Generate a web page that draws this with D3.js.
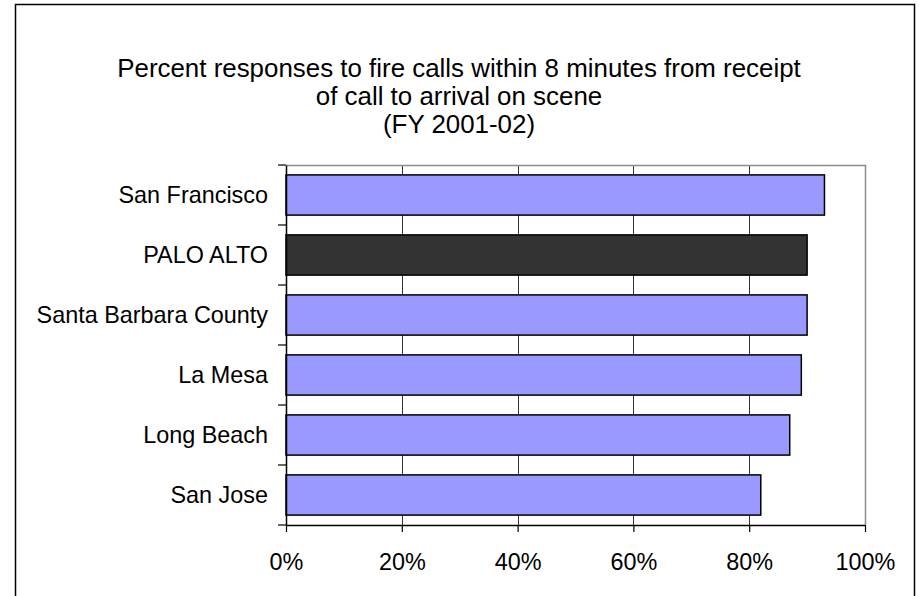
<!DOCTYPE html>
<html>
<head>
<meta charset="utf-8">
<script src="https://cdn.jsdelivr.net/npm/d3@7"></script>
<style>
  html, body { margin: 0; padding: 0; background: #fff; }
  svg { display: block; font-family: "Liberation Sans", Arial, sans-serif; }
</style>
</head>
<body>
<svg id="chart" width="919" height="596"></svg>
<script>
// Fire response performance, FY 2001-02
const titleLines = [
  "Percent responses to fire calls within 8 minutes from receipt",
  "of call to arrival on scene",
  "(FY 2001-02)"
];
const cities = ["San Francisco", "PALO ALTO", "Santa Barbara County", "La Mesa", "Long Beach", "San Jose"];
const percentWithin8 = [93, 90, 90, 89, 87, 82];
const highlightCity = "PALO ALTO";
const xTicks = [0, 20, 40, 60, 80, 100];

const svg = d3.select("#chart");

// outer frame
svg.append("rect")
  .attr("x", 15.5).attr("y", 4.5)
  .attr("width", 899).attr("height", 620)
  .attr("fill", "none").attr("stroke", "#000").attr("stroke-width", 1.5);

// title
svg.append("g").selectAll("text")
  .data(titleLines).join("text")
  .attr("x", 459).attr("y", (d, i) => 77 + i * 28)
  .attr("text-anchor", "middle")
  .attr("font-size", 25.9)
  .attr("fill", "#000")
  .text(d => d);

const plot = { left: 286, right: 865, top: 165, bottom: 525 };

const x = d3.scaleLinear().domain([0, 100]).range([plot.left, plot.right]);
const y = d3.scaleBand().domain(cities).range([plot.top, plot.bottom]).paddingInner(0.33).paddingOuter(0.165);
const band = d3.scaleBand().domain(cities).range([plot.top, plot.bottom]);

// vertical gridlines
svg.append("g").selectAll("line")
  .data(xTicks.filter(t => t > 0 && t < 100)).join("line")
  .attr("x1", d => Math.round(x(d)) + 0.5).attr("x2", d => Math.round(x(d)) + 0.5)
  .attr("y1", plot.top).attr("y2", plot.bottom)
  .attr("stroke", "#333").attr("stroke-width", 1);

// plot area border (top, right)
svg.append("path")
  .attr("d", `M${plot.left},${plot.top + 0.5}H${plot.right + 0.5}V${plot.bottom}`)
  .attr("fill", "none").attr("stroke", "#8c8c8c").attr("stroke-width", 1.5);

// bars
svg.append("g").selectAll("rect")
  .data(cities).join("rect")
  .attr("x", x(0))
  .attr("y", d => y(d))
  .attr("width", (d, i) => x(percentWithin8[i]) - x(0))
  .attr("height", y.bandwidth())
  .attr("fill", d => d === highlightCity ? "#333333" : "#9999FF")
  .attr("stroke", "#000").attr("stroke-width", 1.5);

// category axis
const yAxis = d3.axisLeft(band).tickSize(0).tickPadding(18);
const gy = svg.append("g").attr("transform", `translate(${plot.left},0)`).call(yAxis);
gy.select(".domain").attr("stroke", "#000").attr("stroke-width", 1.5);
gy.selectAll("text").attr("font-size", 23.4).attr("fill", "#000")
  .attr("font-family", "Liberation Sans, Arial, sans-serif");
// tick marks between categories
svg.append("g").selectAll("line")
  .data(d3.range(cities.length + 1)).join("line")
  .attr("x1", plot.left - 8).attr("x2", plot.left)
  .attr("y1", i => plot.top + i * band.step())
  .attr("y2", i => plot.top + i * band.step())
  .attr("stroke", "#000").attr("stroke-width", 1.2);

// value axis
const xAxis = d3.axisBottom(x).tickValues(xTicks).tickFormat(d => d + "%").tickSize(7).tickSizeOuter(0).tickPadding(21);
const gx = svg.append("g").attr("transform", `translate(0,${plot.bottom})`).call(xAxis);
gx.select(".domain").attr("stroke", "#000").attr("stroke-width", 1.5);
gx.selectAll(".tick line").attr("stroke", "#000").attr("stroke-width", 1.2);
gx.selectAll("text").attr("font-size", 23.4).attr("fill", "#000")
  .attr("font-family", "Liberation Sans, Arial, sans-serif");
</script>
</body>
</html>
